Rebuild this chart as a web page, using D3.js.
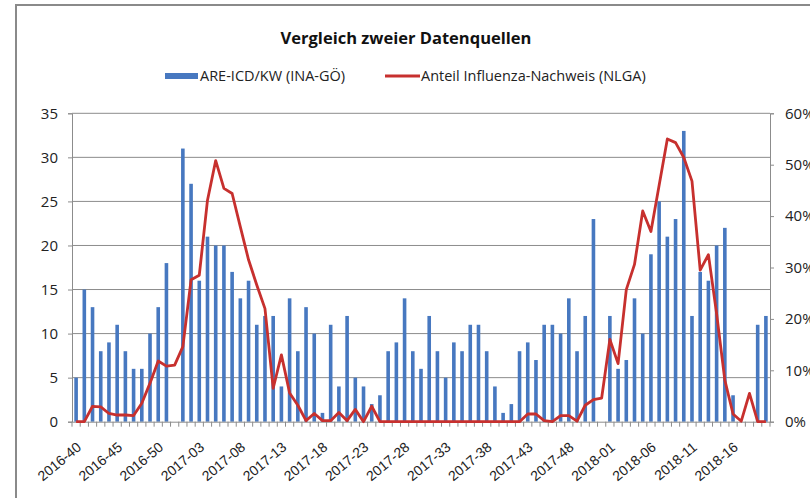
<!DOCTYPE html>
<html>
<head>
<meta charset="utf-8">
<script src="https://cdn.jsdelivr.net/npm/d3@7"></script>
<style>
  body { margin: 0; background: #ffffff; }
  svg { display: block; font-family: "Open Sans", "Noto Sans", sans-serif; }
</style>
</head>
<body>
<div id="chart_div"></div>
<script>
// calendar weeks shown on the x axis (2016-40 .. 2018-20)
var weeks = [
  "2016-40","2016-41","2016-42","2016-43","2016-44","2016-45","2016-46","2016-47","2016-48","2016-49","2016-50","2016-51","2016-52",
  "2017-01","2017-02","2017-03","2017-04","2017-05","2017-06","2017-07","2017-08","2017-09","2017-10","2017-11","2017-12",
  "2017-13","2017-14","2017-15","2017-16","2017-17","2017-18","2017-19","2017-20","2017-21","2017-22","2017-23","2017-24",
  "2017-25","2017-26","2017-27","2017-28","2017-29","2017-30","2017-31","2017-32","2017-33","2017-34","2017-35","2017-36",
  "2017-37","2017-38","2017-39","2017-40","2017-41","2017-42","2017-43","2017-44","2017-45","2017-46","2017-47","2017-48",
  "2017-49","2017-50","2017-51","2017-52",
  "2018-01","2018-02","2018-03","2018-04","2018-05","2018-06","2018-07","2018-08","2018-09","2018-10","2018-11","2018-12",
  "2018-13","2018-14","2018-15","2018-16","2018-17","2018-18","2018-19","2018-20"
];

// ARE-ICD per week (INA-GÖ), left axis
var are_icd = [
  5,15,13,8,9,11,8,6,6,10,13,18,0,
  31,27,16,21,20,20,17,14,16,11,12,12,
  4,14,8,13,10,1,11,4,12,5,4,2,
  3,8,9,14,8,6,12,8,5,9,8,11,
  11,8,4,1,2,8,9,7,11,11,10,14,
  8,12,23,0,
  12,6,7,14,10,19,25,21,23,33,12,17,
  16,20,22,3,0,0,11,12
];

// share of positive influenza tests in percent (NLGA), right axis
var influenza_pct = [
  0,0,3.0,2.9,1.6,1.3,1.3,1.2,3.6,7.5,11.8,10.8,11.0,
  14.6,27.6,28.5,43.1,50.8,45.4,44.4,37.9,31.5,26.6,22.0,6.5,
  13.0,5.6,3.2,0.2,1.6,0.2,0.2,1.8,0.2,2.4,0,3.0,
  0,0,0,0,0,0,0,0,0,0,0,0,
  0,0,0,0,0,0,1.5,1.5,0.2,0,1.2,1.2,
  0.1,3.2,4.3,4.6,
  16.0,11.3,25.7,30.6,41.0,37.0,46.0,55.0,54.3,51.4,46.8,29.5,
  32.5,21.0,8.1,1.5,0.1,5.5,0,0
];

var left_ticks = [0,5,10,15,20,25,30,35];
var right_ticks = [0,10,20,30,40,50,60];
var label_every = 5;

var chart_title = "Vergleich zweier Datenquellen";
var legend_bar = "ARE-ICD/KW (INA-GÖ)";
var legend_line = "Anteil Influenza-Nachweis (NLGA)";

var width = 810, height = 498;
var plot = {left: 72, right: 770, top: 113.3, bottom: 421.7};
var bar_color = "#4778c0", line_color = "#c7302e", grid_color = "#8c8c8c";

var svg = d3.select("#chart_div")
  .append("svg")
  .attr("width", width)
  .attr("height", height);

svg.append("rect")
  .attr("width", width).attr("height", height)
  .attr("fill", "#ffffff");

// outer chart frame (only left and top edge are inside the picture)
svg.append("path")
  .attr("d", "M16," + height + "V5H" + width)
  .attr("fill", "none")
  .attr("stroke", "#8a8a8a")
  .attr("stroke-width", 2);

var xScale = d3.scaleBand()
  .domain(weeks)
  .range([plot.left, plot.right])
  .padding(0);

var yScale = d3.scaleLinear()
  .domain([0, 35])
  .range([plot.bottom, plot.top]);

var y2Scale = d3.scaleLinear()
  .domain([0, 60])
  .range([plot.bottom, plot.top]);

var bw = xScale.bandwidth();

// gridlines
svg.append("g")
  .attr("class", "grid")
  .selectAll("line")
  .data(left_ticks.slice(1))
  .enter().append("line")
    .attr("x1", plot.left).attr("x2", plot.right)
    .attr("y1", function(d) { return yScale(d); })
    .attr("y2", function(d) { return yScale(d); })
    .attr("stroke", grid_color)
    .attr("stroke-width", 1);

// bars
svg.append("g")
  .attr("class", "bars")
  .selectAll("rect")
  .data(are_icd)
  .enter().append("rect")
    .attr("x", function(d, i) { return xScale(weeks[i]) + bw / 2 - 1.8; })
    .attr("width", 3.6)
    .attr("y", function(d) { return yScale(d); })
    .attr("height", function(d) { return plot.bottom - yScale(d); })
    .attr("fill", bar_color);

// left axis
var leftAxis = d3.axisLeft(yScale)
  .tickValues(left_ticks)
  .tickSize(4)
  .tickPadding(10);

var gLeft = svg.append("g")
  .attr("transform", "translate(" + plot.left + ",0)")
  .call(leftAxis);

// right axis
var rightAxis = d3.axisRight(y2Scale)
  .tickValues(right_ticks)
  .tickSize(4)
  .tickPadding(11)
  .tickFormat(function(d) { return d + "%"; });

var gRight = svg.append("g")
  .attr("transform", "translate(" + plot.right + ",0)")
  .call(rightAxis);

// bottom axis: ticks on category boundaries, labels every 5th week
var xAxis = d3.axisBottom(xScale)
  .tickSize(0)
  .tickFormat("");

var gBottom = svg.append("g")
  .attr("transform", "translate(0," + plot.bottom + ")")
  .call(xAxis);

gBottom.selectAll(".boundary")
  .data(weeks.concat(["end"]))
  .enter().append("line")
    .attr("class", "boundary")
    .attr("x1", function(d, i) { return plot.left + i * bw; })
    .attr("x2", function(d, i) { return plot.left + i * bw; })
    .attr("y1", 0).attr("y2", 5)
    .attr("stroke", grid_color);

gBottom.selectAll(".xlabel")
  .data(weeks.filter(function(d, i) { return i % label_every === 0; }))
  .enter().append("text")
    .attr("class", "xlabel")
    .attr("transform", function(d) {
      return "translate(" + (xScale(d) + bw / 2 + 6) + ",27) rotate(-40)";
    })
    .attr("text-anchor", "end")
    .attr("font-size", 14)
    .attr("fill", "#222")
    .text(function(d) { return d; });

[gLeft, gRight, gBottom].forEach(function(g) {
  g.select(".domain").attr("stroke", grid_color).attr("stroke-width", 1);
  g.selectAll(".tick line").attr("stroke", grid_color);
  g.selectAll(".tick text")
    .attr("font-size", 15)
    .attr("font-family", "Open Sans")
    .attr("fill", "#222");
});

// influenza line
var line = d3.line()
  .x(function(d, i) { return xScale(weeks[i]) + bw / 2; })
  .y(function(d) { return y2Scale(d); });

svg.append("path")
  .datum(influenza_pct)
  .attr("d", line)
  .attr("fill", "none")
  .attr("stroke", line_color)
  .attr("stroke-width", 2.8)
  .attr("stroke-linejoin", "round");

// title
svg.append("text")
  .attr("x", 406).attr("y", 44)
  .attr("text-anchor", "middle")
  .attr("font-size", 16.5)
  .attr("font-weight", "bold")
  .attr("fill", "#111")
  .text(chart_title);

// legend
var legend = svg.append("g").attr("class", "legend");
legend.append("rect")
  .attr("x", 165).attr("y", 73).attr("width", 33).attr("height", 6)
  .attr("fill", bar_color);
legend.append("text")
  .attr("x", 200).attr("y", 81)
  .attr("font-size", 14.5).attr("fill", "#222")
  .text(legend_bar);
legend.append("line")
  .attr("x1", 385).attr("x2", 420).attr("y1", 76).attr("y2", 76)
  .attr("stroke", line_color).attr("stroke-width", 2.8);
legend.append("text")
  .attr("x", 421).attr("y", 81)
  .attr("font-size", 14.5).attr("fill", "#222")
  .text(legend_line);
</script>
</body>
</html>
